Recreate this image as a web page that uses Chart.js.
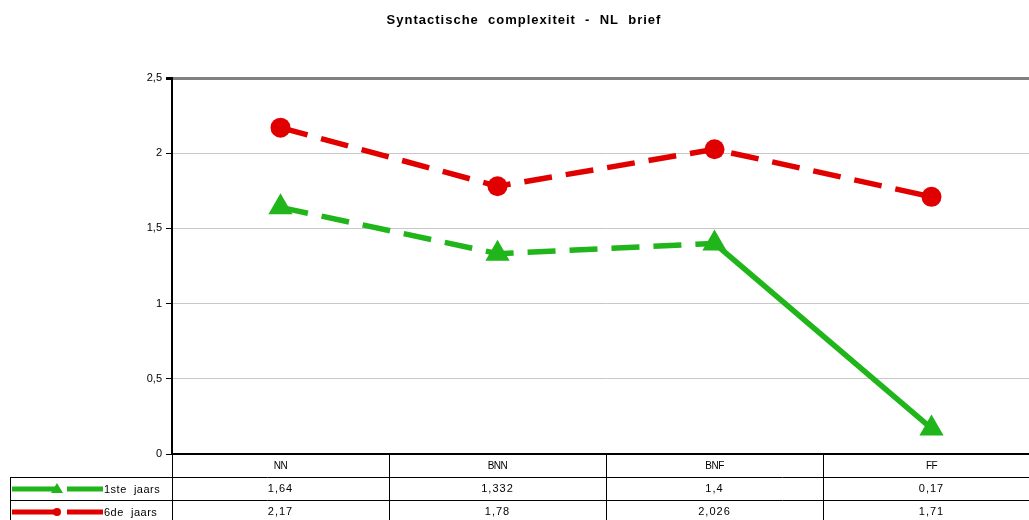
<!DOCTYPE html>
<html>
<head>
<meta charset="utf-8">
<script src="https://cdn.jsdelivr.net/npm/chart.js@4/dist/chart.umd.min.js"></script>
<style>
  html, body { margin: 0; padding: 0; background: #fff; overflow: hidden; }
  #wrap { position: relative; width: 1040px; min-width: 1040px; height: 520px; }
</style>
</head>
<body>
<div id="wrap"><canvas id="grafico"></canvas></div>
<script>
// --- gegevens ---
const categorieen = ['NN', 'BNN', 'BNF', 'FF'];
const eersteJaars = [1.64, 1.332, 1.4, 0.17];
const zesdeJaars = [2.17, 1.78, 2.026, 1.71];
const reeksNamen = ['1ste  jaars', '6de  jaars'];
const yTicks = [0, 0.5, 1, 1.5, 2, 2.5];

const groen = '#1fb51b';
const rood = '#e00000';
const fmt = v => String(v).replace('.', ',');

// titel + datatabel onder de grafiek
const tabelPlugin = {
  id: 'tabel',
  afterDraw(chart) {
    const ctx = chart.ctx;
    const ca = chart.chartArea;
    const x = chart.scales.x;
    const band = (x.getPixelForValue(1) - x.getPixelForValue(0));
    ctx.save();
    // titel
    ctx.fillStyle = '#000';
    ctx.font = 'bold 13px "Liberation Sans", Arial, sans-serif';
    ctx.letterSpacing = '1px';
    ctx.textAlign = 'center';
    ctx.textBaseline = 'middle';
    ctx.fillText('Syntactische  complexiteit  -  NL  brief', 524, 20);

    // lijnen
    const y0 = ca.bottom, y1 = ca.bottom + 23, y2 = ca.bottom + 46, y3 = 520;
    ctx.strokeStyle = '#000';
    ctx.lineWidth = 1;
    ctx.beginPath();
    for (let i = 0; i <= categorieen.length; i++) {
      const px = Math.round(x.getPixelForValue(i) - band / 2) + 0.5;
      ctx.moveTo(px, y0); ctx.lineTo(px, y3);
    }
    ctx.moveTo(10.5, y1); ctx.lineTo(10.5, y3);
    ctx.moveTo(10, y1 + 0.5); ctx.lineTo(ca.right, y1 + 0.5);
    ctx.moveTo(10, y2 + 0.5); ctx.lineTo(ca.right, y2 + 0.5);
    ctx.stroke();

    // categorieen
    ctx.letterSpacing = '-0.5px';
    ctx.font = '10px "Liberation Sans", Arial, sans-serif';
    categorieen.forEach((c, i) => {
      ctx.fillText(c, x.getPixelForValue(i), y0 + 12);
    });

    // waarden
    ctx.font = '11px "Liberation Sans", Arial, sans-serif';
    ctx.letterSpacing = '1px';
    [eersteJaars, zesdeJaars].forEach((reeks, r) => {
      const yy = (r === 0 ? y1 : y2) + 12;
      reeks.forEach((v, i) => {
        ctx.fillText(fmt(v), x.getPixelForValue(i), yy);
      });
    });

    // legenda-sleutels
    ctx.letterSpacing = '0.5px';
    ctx.textAlign = 'left';
    [groen, rood].forEach((kleur, r) => {
      const yy = (r === 0 ? y1 : y2) + 12;
      ctx.strokeStyle = kleur;
      ctx.fillStyle = kleur;
      ctx.lineWidth = 5;
      ctx.beginPath();
      ctx.moveTo(12, yy); ctx.lineTo(57, yy);
      ctx.moveTo(67, yy); ctx.lineTo(103, yy);
      ctx.stroke();
      ctx.beginPath();
      if (r === 0) {
        ctx.moveTo(57, yy - 6); ctx.lineTo(63, yy + 4); ctx.lineTo(51, yy + 4); ctx.closePath();
      } else {
        ctx.arc(57, yy, 4, 0, Math.PI * 2);
      }
      ctx.fill();
      ctx.fillStyle = '#000';
      ctx.fillText(reeksNamen[r], 104, yy + 1);
    });
    ctx.restore();
  }
};

new Chart(document.getElementById('grafico'), {
  type: 'line',
  data: {
    labels: categorieen,
    datasets: [
      {
        label: reeksNamen[0],
        data: eersteJaars,
        borderColor: groen,
        backgroundColor: groen,
        borderWidth: 5.5,
        borderDash: [28, 14],
        segment: {
          borderDash: s => s.p0DataIndex >= 2 ? [] : [28, 14]
        },
        pointStyle: 'triangle',
        pointRadius: 14,
        pointBorderWidth: 0,
        tension: 0
      },
      {
        label: reeksNamen[1],
        data: zesdeJaars,
        borderColor: rood,
        backgroundColor: rood,
        borderWidth: 5.5,
        borderDash: [28, 14],
        pointStyle: 'circle',
        pointRadius: 10,
        pointBorderWidth: 0,
        tension: 0
      }
    ]
  },
  options: {
    responsive: true,
    maintainAspectRatio: false,
    animation: false,
    clip: false,
    layout: { autoPadding: false, padding: { top: 78, left: 0, bottom: 0, right: 0 } },
    plugins: {
      legend: { display: false },
      title: { display: false },
      tooltip: { enabled: false }
    },
    scales: {
      x: {
        offset: true,
        grid: { display: false },
        border: { display: true, color: '#000', width: 2 },
        ticks: { display: false },
        afterFit: s => { s.height = 66; }
      },
      y: {
        min: 0,
        max: 2.5,
        afterBuildTicks: s => { s.ticks = yTicks.map(v => ({ value: v })); },
        afterFit: s => { s.width = 172; },
        border: { display: true, color: '#000', width: 2 },
        grid: {
          color: c => c.tick && c.tick.value === 2.5 ? '#808080' : '#c8c8c8',
          lineWidth: c => c.tick && c.tick.value === 2.5 ? 3 : 1,
          tickColor: '#000',
          tickLength: 6,
          drawTicks: true
        },
        ticks: {
          color: '#000',
          padding: 4,
          font: { family: '"Liberation Sans", Arial, sans-serif', size: 11 },
          callback: v => fmt(v)
        }
      }
    }
  },
  plugins: [tabelPlugin]
});
</script>
</body>
</html>
